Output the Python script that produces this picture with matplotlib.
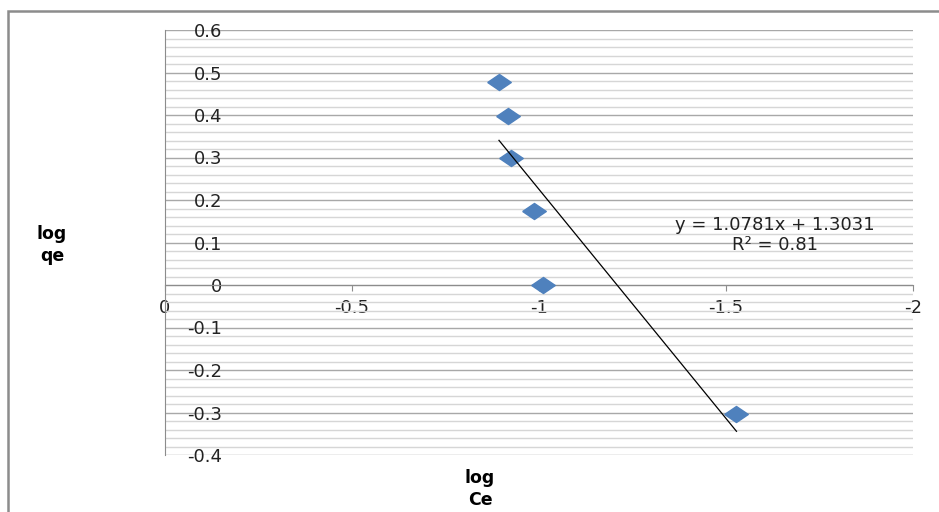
import matplotlib.pyplot as plt
import numpy as np
from matplotlib.patches import Rectangle
from matplotlib.ticker import MultipleLocator

# datos
log_ce = [-0.893, -0.917, -0.925, -0.987, -1.011, -1.528]
log_qe = [0.478, 0.398, 0.299, 0.174, 0.0, -0.304]
slope = 1.0781
intercept = 1.3031
r2 = 0.81
xticks = [0, -0.5, -1, -1.5, -2]
xtick_labels = ['0', '-0.5', '-1', '-1.5', '-2']
yticks = [-0.4, -0.3, -0.2, -0.1, 0, 0.1, 0.2, 0.3, 0.4, 0.5, 0.6]
ytick_labels = ['-0.4', '-0.3', '-0.2', '-0.1', '0', '0.1', '0.2', '0.3', '0.4', '0.5', '0.6']

plt.rcParams['font.family'] = ['DejaVu Sans']

fig = plt.figure(figsize=(9.39, 5.12), dpi=100)
W, H = 939, 512

# marco exterior del grafico
fig.patches.append(Rectangle((8 / W, -0.1), 1.1, (H - 11) / H + 0.1,
                             transform=fig.transFigure, fill=False,
                             edgecolor='#8c8c8c', lw=1.8, zorder=0))

ax = fig.add_axes([165 / W, (H - 455) / H, (913 - 165) / W, (455 - 30) / H])
ax.set_xlim(0, -2)
ax.set_ylim(-0.4, 0.6)

# cuadricula horizontal
ax.yaxis.set_minor_locator(MultipleLocator(0.02))
ax.grid(axis='y', which='major', color='#a8a8a8', lw=1.0)
ax.grid(axis='y', which='minor', color='#d6d6d6', lw=1.0)
ax.set_axisbelow(True)

for s in ['top', 'right']:
    ax.spines[s].set_visible(False)
ax.spines['left'].set_color('#8c8c8c')
ax.spines['bottom'].set_color('#8c8c8c')
ax.spines['bottom'].set_position(('data', 0))

ax.set_xticks(xticks)
ax.set_xticklabels(xtick_labels, fontsize=13, color='#222222')
ax.set_yticks(yticks)
ax.set_yticklabels(ytick_labels, fontsize=13, color='#222222')
ax.tick_params(axis='x', direction='out', length=4, color='#8c8c8c', pad=6)
ax.tick_params(axis='y', which='both', length=0, pad=-41)

# puntos
diamond = [(-1, 0), (0, 0.68), (1, 0), (0, -0.68), (-1, 0)]
ax.plot(log_ce, log_qe, linestyle='none', marker=diamond, markersize=17,
        color='#4f81bd', zorder=3)

# linea de tendencia
xl = np.array([max(log_ce), min(log_ce)])
ax.plot(xl, slope * xl + intercept, color='black', lw=0.9, zorder=4)

ax.text(-1.63, 0.118, 'y = 1.0781x + 1.3031\nR² = 0.81', ha='center', va='center',
        fontsize=13, linespacing=1.15, color='#222222')

fig.text(52 / W, 1 - 245 / H, 'log\nqe', ha='center', va='center',
         fontsize=12.5, fontweight='bold', linespacing=1.3)
fig.text(480 / W, 1 - 489 / H, 'log\nCe', ha='center', va='center',
         fontsize=12.5, fontweight='bold', linespacing=1.3)

fig.savefig('out.png', dpi=100)
